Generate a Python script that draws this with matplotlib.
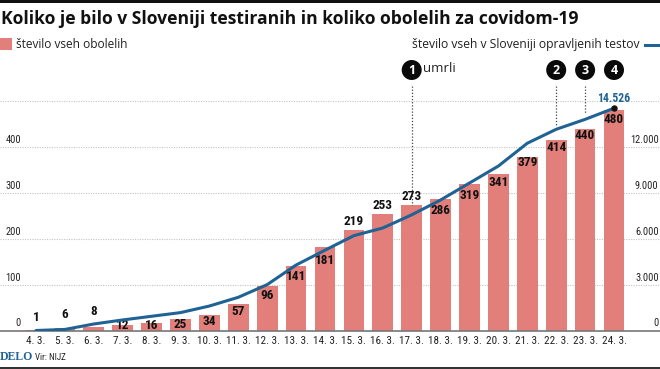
import matplotlib
matplotlib.use("Agg")
import matplotlib.pyplot as plt
from matplotlib.transforms import ScaledTranslation

days = ["4. 3.", "5. 3.", "6. 3.", "7. 3.", "8. 3.", "9. 3.", "10. 3.", "11. 3.", "12. 3.", "13. 3.", "14. 3.",
        "15. 3.", "16. 3.", "17. 3.", "18. 3.", "19. 3.", "20. 3.", "21. 3.", "22. 3.", "23. 3.", "24. 3."]
sick = [1, 6, 8, 12, 16, 25, 34, 57, 96, 141, 181, 219, 253, 273, 286, 319, 341, 379, 414, 440, 480]
tests = [0, 70, 425, 690, 930, 1170, 1600, 2170, 3000, 4280, 5250, 6200, 6700, 7560, 8530, 9640, 10750,
         12240, 13150, 13800, 14526]
left_ticks = [0, 100, 200, 300, 400]
right_ticks = [0, 3000, 6000, 9000, 12000]
right_labels = ["0", "3.000", "6.000", "9.000", "12.000"]
events = [(13, "1"), (18, "2"), (19, "3"), (20, "4")]

# px offset of each number from the top of its bar
label_dy = [13, 13, 15, -1, -2, -5.5, -7, -7.5, -8.6, -11, -12.6, 8.8, 8.4, 8.6, -11, -11, -8.5, -6, -7.5, -7, -9]

W, H = 660, 369
NARROW = "Roboto Condensed"
RED = "#e27f7b"
BLUE = "#1f6394"


def fx(px):
    return px / W


def fy(px):
    return 1 - px / H


fig = plt.figure(figsize=(W / 100, H / 100), dpi=100)
top, base = 101, 330.5
ax = fig.add_axes([0, fy(base), 1, (base - top) / H])
ax.set_zorder(1)
ax.patch.set_visible(False)
ax2 = ax.twinx()
ax2.set_zorder(2)
ax2.patch.set_visible(False)

step = 28.9
x0 = 36
ax.set_xlim(-x0 / step, (W - x0) / step)
ax.set_ylim(0, 500)
ax2.set_ylim(0, 15000)

x = list(range(len(days)))
ax.set_axisbelow(True)
ax.yaxis.grid(True, color="#c4c4c4", lw=0.8, ls=(0, (1, 1.2)))
ax.set_yticks(left_ticks + [500])
ax.set_yticklabels([str(v) for v in left_ticks] + [""], family=NARROW, fontsize=7.5, color="#222222", va="bottom")
ax.tick_params(axis="y", length=0, pad=-15)
ax.bar(x, sick, width=0.715, color=RED)

for i, v in enumerate(sick):
    ax.annotate(str(v), (i, v), xytext=(0, label_dy[i]), textcoords="offset pixels", ha="center", va="center",
                family=NARROW, fontsize=9.5, fontweight="bold", color="#111111", zorder=5)

ax.set_xticks(x)
ax.set_xticklabels(days, family=NARROW, fontsize=8, color="#222222")
ax.tick_params(axis="x", length=0, pad=4)
for s in ["top", "left", "right"]:
    ax.spines[s].set_visible(False)
    ax2.spines[s].set_visible(False)
ax2.spines["bottom"].set_visible(False)
ax.spines["bottom"].set_color("#777777")
ax.spines["bottom"].set_linewidth(1.2)

ax2.plot(x, tests, color=BLUE, lw=2.2, solid_joinstyle="round", solid_capstyle="round")
ax2.plot(x[-1], tests[-1], "o", color="#111111", ms=3.6, clip_on=False)
ax2.annotate("14.526", (x[-1], tests[-1]), xytext=(0, 10), textcoords="offset pixels", ha="center", va="center",
             family=NARROW, fontsize=8.5, fontweight="bold", color=BLUE, annotation_clip=False)
ax2.set_yticks(right_ticks)
ax2.set_yticklabels(right_labels, family=NARROW, fontsize=7.5, color="#222222", ha="right", va="bottom")
ax2.tick_params(axis="y", length=0, pad=-1)

nudge = ScaledTranslation(0, 2 / 100, fig.dpi_scale_trans)
for lab in ax.get_yticklabels() + ax2.get_yticklabels():
    lab.set_transform(lab.get_transform() + nudge)

# numbered markers with dotted leaders
stems = {13: (86, 205), 18: (86, 125), 19: (86, 113)}
for i, num in events:
    px = x0 + step * i
    fig.text(fx(px), fy(70), num, ha="center", va="center", color="white", fontsize=9, fontweight="bold",
             family="Open Sans", zorder=6,
             bbox=dict(boxstyle="circle,pad=0.28", fc="#0a0a0a", ec="none"))
    if i in stems:
        a, b = stems[i]
        ya = (base - a) / (base - top) * 500
        yb = (base - b) / (base - top) * 500
        ax.plot([i, i], [ya, yb], color="#444444", lw=0.9, ls=(0, (1, 1.5)), clip_on=False, zorder=4)

fig.text(fx(423), fy(69), "umrli", ha="left", va="center", family="Open Sans", fontsize=9.5, color="#222222")

# header
fig.patches.append(plt.Rectangle((0, fy(2.5)), 1, 2.5 / H, transform=fig.transFigure, fc="#111111", ec="none"))
fig.patches.append(plt.Rectangle((0, 0), 1, 2.5 / H, transform=fig.transFigure, fc="#333333", ec="none"))
fig.text(fx(1), fy(19), "Koliko je bilo v Sloveniji testiranih in koliko obolelih za covidom-19",
         ha="left", va="center", family="Open Sans", fontweight="bold", fontsize=12.65, color="#111111")
fig.patches.append(plt.Rectangle((0, fy(50)), 12 / W, 12 / H, transform=fig.transFigure, fc=RED, ec="none"))
fig.text(fx(16), fy(44.5), "število vseh obolelih", ha="left", va="center", family="Open Sans", fontsize=8.55,
         color="#222222")
fig.text(fx(640), fy(44.5), "število vseh v Sloveniji opravljenih testov", ha="right", va="center",
         family="Open Sans", fontsize=8.7, color="#222222")
fig.add_artist(plt.Line2D([fx(645), fx(660)], [fy(44.5), fy(44.5)], color=BLUE, lw=2.2))

# footer
fig.text(fx(0), fy(357), "DELO", ha="left", va="center", family="Liberation Serif", fontweight="bold", fontsize=8.5,
         color=BLUE)
fig.text(fx(35), fy(357), "Vir: NIJZ", ha="left", va="center", family=NARROW, fontsize=6.5, color="#222222")

fig.savefig("out.png", dpi=100)
